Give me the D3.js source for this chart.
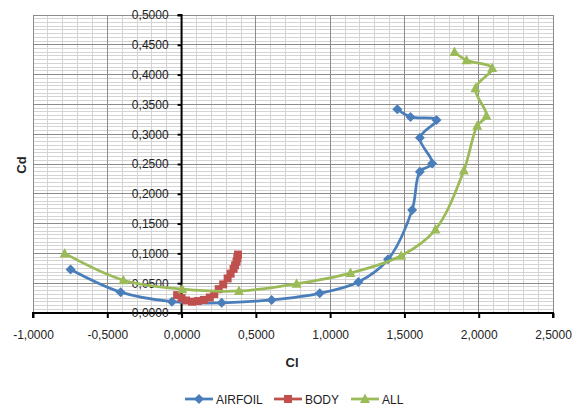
<!DOCTYPE html>
<html>
<head>
<meta charset="utf-8">
<script src="https://cdn.jsdelivr.net/npm/d3@7"></script>
<style>
  html, body { margin: 0; padding: 0; background: #fff; }
  svg { display: block; font-family: "Liberation Sans", Arial, sans-serif; }
</style>
</head>
<body>
<svg id="chart" width="572" height="407"></svg>
<script>
// Drag polar: Cd against Cl for each configuration
const seriesNames = ["AIRFOIL", "BODY", "ALL"];
const seriesColors = ["#4a7ebb", "#c0504d", "#9bbb59"];

const airfoilCl = [-0.747, -0.41, -0.065, 0.27, 0.606, 0.93, 1.19, 1.39, 1.552, 1.604, 1.687, 1.604, 1.716, 1.541, 1.452];
const airfoilCd = [0.073, 0.035, 0.019, 0.017, 0.022, 0.033, 0.052, 0.090, 0.173, 0.237, 0.251, 0.294, 0.324, 0.329, 0.342];

const bodyCl = [-0.03, 0.0, 0.03, 0.07, 0.11, 0.15, 0.19, 0.22, 0.25, 0.28, 0.31, 0.33, 0.35, 0.36, 0.37, 0.375, 0.38];
const bodyCd = [0.030, 0.025, 0.021, 0.019, 0.020, 0.022, 0.026, 0.032, 0.040, 0.048, 0.058, 0.066, 0.074, 0.080, 0.086, 0.092, 0.098];

const allCl = [-0.787, -0.392, 0.005, 0.386, 0.774, 1.137, 1.478, 1.709, 1.90, 1.99, 2.052, 1.978, 2.091, 1.918, 1.837];
const allCd = [0.100, 0.055, 0.040, 0.037, 0.049, 0.067, 0.096, 0.140, 0.239, 0.314, 0.331, 0.377, 0.411, 0.424, 0.438];

const xTicks = [-1, -0.5, 0, 0.5, 1, 1.5, 2, 2.5];
const yTicks = [0, 0.05, 0.1, 0.15, 0.2, 0.25, 0.3, 0.35, 0.4, 0.45, 0.5];

const series = [
  { name: seriesNames[0], color: seriesColors[0], cl: airfoilCl, cd: airfoilCd, marker: "diamond" },
  { name: seriesNames[1], color: seriesColors[1], cl: bodyCl, cd: bodyCd, marker: "square" },
  { name: seriesNames[2], color: seriesColors[2], cl: allCl, cd: allCd, marker: "triangle" }
];

const locale = d3.formatLocale({ decimal: ",", thousands: ".", grouping: [3], currency: ["", ""], minus: "-" });
const fmt = locale.format(".4f");

const svg = d3.select("#chart");
const x = d3.scaleLinear().domain([-1, 2.5]).range([33, 553]);
const y = d3.scaleLinear().domain([0, 0.5]).range([313, 15]);

// minor grid
const grid = svg.append("g");
d3.range(-1, 2.5001, 0.1).forEach(v => {
  grid.append("line").attr("x1", x(v)).attr("x2", x(v)).attr("y1", y(0)).attr("y2", y(0.5))
    .attr("stroke", "#d4d4d4").attr("stroke-width", 1).attr("shape-rendering", "crispEdges");
});
d3.range(0, 0.5001, 0.00625).forEach(v => {
  grid.append("line").attr("x1", x(-1)).attr("x2", x(2.5)).attr("y1", y(v)).attr("y2", y(v))
    .attr("stroke", "#d4d4d4").attr("stroke-width", 1).attr("shape-rendering", "crispEdges");
});
// major grid
xTicks.forEach(v => {
  grid.append("line").attr("x1", x(v)).attr("x2", x(v)).attr("y1", y(0)).attr("y2", y(0.5))
    .attr("stroke", "#8c8c8c").attr("stroke-width", 1).attr("shape-rendering", "crispEdges");
});
yTicks.forEach(v => {
  grid.append("line").attr("x1", x(-1)).attr("x2", x(2.5)).attr("y1", y(v)).attr("y2", y(v))
    .attr("stroke", "#8c8c8c").attr("stroke-width", 1).attr("shape-rendering", "crispEdges");
});

// axes crossing at the origin
const xAxis = d3.axisBottom(x).tickValues(xTicks).tickFormat(fmt).tickSize(5).tickPadding(12);
const gx = svg.append("g").attr("transform", `translate(0,${y(0)})`).call(xAxis);
gx.select(".domain").attr("stroke", "#000").attr("stroke-width", 2);
gx.selectAll(".tick line").attr("stroke", "#000").attr("stroke-width", 2);
gx.selectAll("text").attr("font-size", 12).attr("fill", "#222").attr("font-family", "Liberation Sans, Arial, sans-serif");

const yAxis = d3.axisLeft(y).tickValues(yTicks).tickFormat(fmt).tickSize(4).tickPadding(9);
const gy = svg.append("g").attr("transform", `translate(${x(0)},0)`).call(yAxis);
gy.select(".domain").attr("stroke", "#000").attr("stroke-width", 2);
gy.selectAll(".tick line").attr("stroke", "#000").attr("stroke-width", 2);
gy.selectAll("text").attr("font-size", 12).attr("fill", "#222").attr("font-family", "Liberation Sans, Arial, sans-serif");
gx.selectAll("path.domain").attr("d", `M${x(-1)},5V0H${x(2.5)}V5`);
gy.selectAll("path.domain").attr("d", `M-4,${y(0.5)}H0V${y(0)}H-4`);

// axis titles
svg.append("text").attr("x", 292).attr("y", 367).attr("text-anchor", "middle")
  .attr("font-size", 13).attr("font-weight", "bold").attr("fill", "#222").text("Cl");
svg.append("text").attr("transform", "translate(26,165) rotate(-90)").attr("text-anchor", "middle")
  .attr("font-size", 13).attr("font-weight", "bold").attr("fill", "#222").text("Cd");

// marker shapes
function markerPath(kind) {
  if (kind === "diamond") return "M0,-5L5,0L0,5L-5,0Z";
  if (kind === "square") return "M-4,-4H4V4H-4Z";
  return "M0,-5.5L5,4L-5,4Z";
}

const line = d3.line().curve(d3.curveCatmullRom.alpha(0.5));

series.forEach(s => {
  const pts = s.cl.map((c, i) => [x(c), y(s.cd[i])]);
  const g = svg.append("g");
  g.append("path").attr("d", line(pts)).attr("fill", "none")
    .attr("stroke", s.color).attr("stroke-width", 2.75).attr("stroke-linejoin", "round");
  g.selectAll("path.m").data(pts).join("path").attr("class", "m")
    .attr("transform", d => `translate(${d[0]},${d[1]})`)
    .attr("d", markerPath(s.marker)).attr("fill", s.color);
});

// legend
const legendX = [185, 274, 351];
series.forEach((s, i) => {
  const g = svg.append("g").attr("transform", `translate(${legendX[i]},399)`);
  g.append("line").attr("x1", 0).attr("x2", 28).attr("y1", 0).attr("y2", 0)
    .attr("stroke", s.color).attr("stroke-width", 2.75);
  g.append("path").attr("transform", "translate(14,0)").attr("d", markerPath(s.marker)).attr("fill", s.color);
  g.append("text").attr("x", 31).attr("y", 4.5).attr("font-size", 12).attr("fill", "#222").text(s.name);
});
</script>
</body>
</html>
